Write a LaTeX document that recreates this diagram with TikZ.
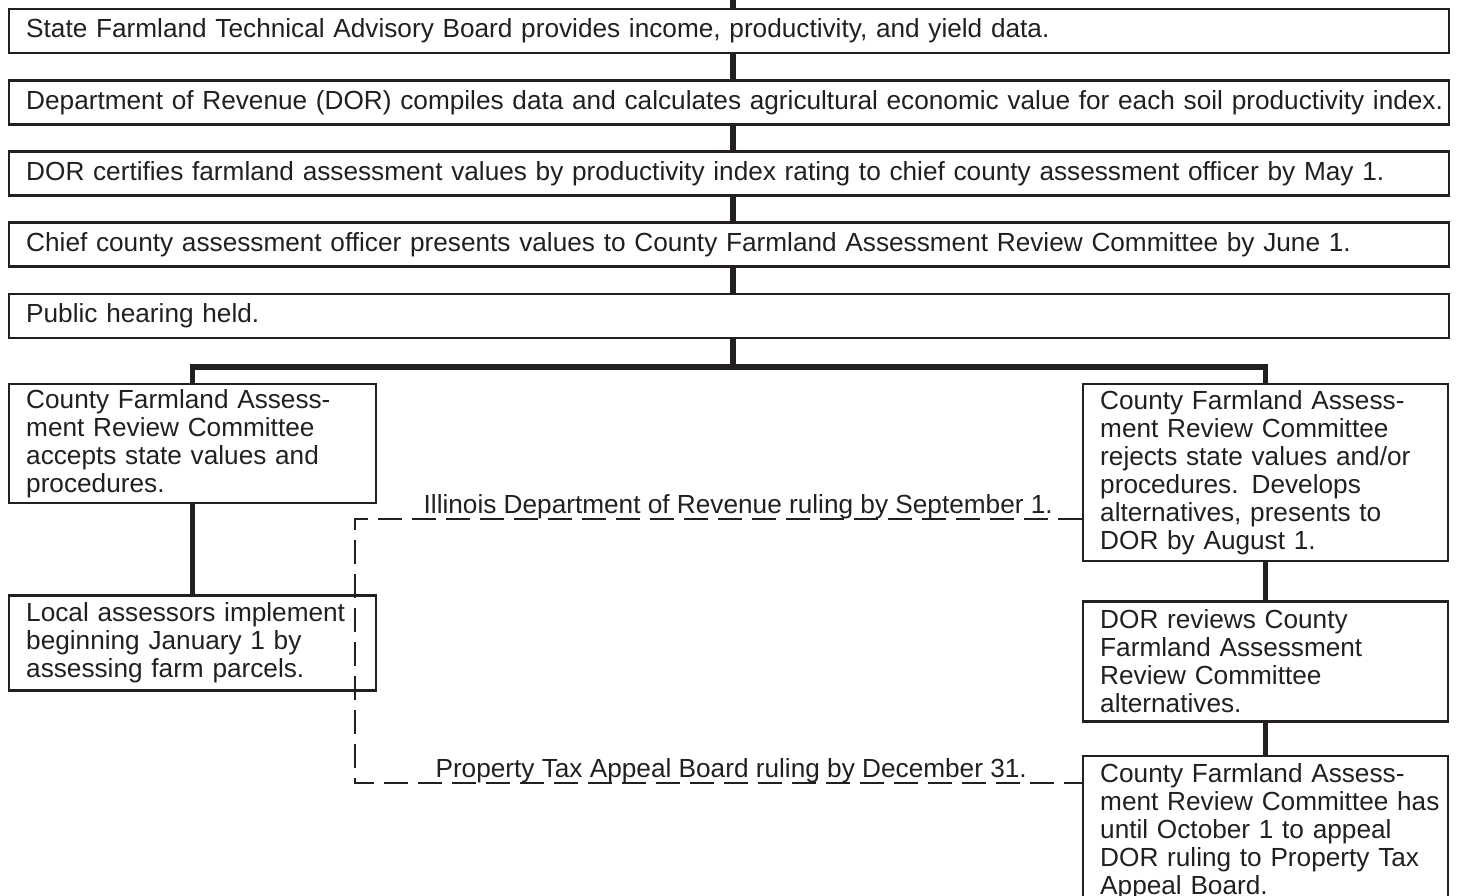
\documentclass[tikz,border=0pt]{standalone}
\usepackage{fontspec}
\setmainfont{Liberation Sans}
\usetikzlibrary{positioning}
\definecolor{ink}{HTML}{231F20}

\begin{document}
\begin{tikzpicture}[x=1bp,y=-1bp,node distance=24.75bp,
		font=\fontsize{26.2bp}{28bp}\selectfont,
		stage/.style={draw=ink,line width=2.4bp,text=ink,anchor=north west,align=left,inner xsep=17bp,inner ysep=0pt},
		wide/.style={stage,minimum width=1440bp,text width=1406bp,minimum height=44bp},
		leftcol/.style={stage,minimum width=367bp,text width=333bp},
		rightcol/.style={stage,minimum width=365bp,text width=331bp},
		joint/.style={draw=ink,line width=5.5bp},
		ruling/.style={draw=ink,line width=2bp,dash pattern=on 24bp off 10bp},
		rulelabel/.style={text=ink,inner sep=0pt,anchor=base east}
		]
		\useasboundingbox (0,0) rectangle (1460,895);
		\clip (0,0) rectangle (1460,895);
		\node[wide] (s1) at (8,8) {State Farmland Technical Advisory Board provides income, productivity, and yield data.};
		\node[wide,below=of s1] (s2) {\mbox{Department of Revenue (DOR) compiles data and calculates agricultural economic value for each soil productivity index.}};
		\node[wide,below=of s2] (s3) {DOR certifies farmland assessment values by productivity index rating to chief county assessment officer by May 1.};
		\node[wide,below=of s3] (s4) {Chief county assessment officer presents values to County Farmland Assessment Review Committee by June 1.};
		\node[wide,below=of s4] (s5) {Public hearing held.};
		\node[leftcol,minimum height=119bp] (accept) at (8,383) {County Farmland Assess-\\ment Review Committee\\accepts state values and\\procedures.};
		\node[leftcol,minimum height=95bp,below=90bp of accept] (local) {Local assessors implement\\beginning January 1 by\\assessing farm parcels.};
		\node[rightcol,minimum height=177bp] (reject) at (1082,383) {County Farmland Assess-\\ment Review Committee\\rejects state values and/or\\procedures. Develops\\alternatives, presents to\\DOR by August 1.};
		\node[rightcol,minimum height=120bp,below=38bp of reject] (review) {DOR reviews County\\Farmland Assessment\\Review Committee\\alternatives.};
		\node[rightcol,minimum height=152bp,below=32bp of review] (appeal) {County Farmland Assess-\\\mbox{ment Review Committee has}\\until October 1 to appeal\\DOR ruling to Property Tax\\Appeal Board.};
		\coordinate (entry) at (733,0);
		\coordinate (fork) at (733,367);
		\draw[joint] (entry) -- (entry |- s1.north);
		\foreach \a/\b in {s1/s2,s2/s3,s3/s4,s4/s5}
		\draw[joint] (entry |- \a.south) -- (entry |- \b.north);
		\draw[joint] (entry |- s5.south) -- (fork);
		\draw[joint] (accept.north) |- (fork) -| (reject.north);
		\draw[joint] (accept) -- (local);
		\draw[joint] (reject) -- (review);
		\draw[joint] (review) -- (appeal);
		\coordinate (turn) at (355,519);
		\coordinate (turnlow) at (355,783);
		\draw[ruling] (reject.west |- turn) -- (turn) -- (turnlow) -- (appeal.west |- turnlow);
		\node[rulelabel] (dorrule) at (1053,513) {Illinois Department of Revenue ruling by September 1.};
		\node[rulelabel] (ptabrule) at (1027,777) {Property Tax Appeal Board ruling by December 31.};
\end{tikzpicture}
\end{document}
